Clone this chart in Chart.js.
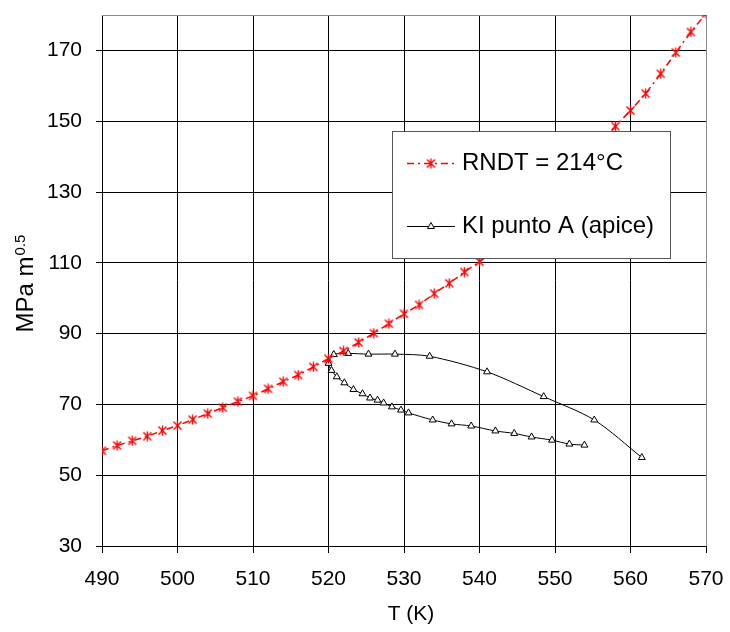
<!DOCTYPE html>
<html>
<head>
<meta charset="utf-8">
<script src="https://cdn.jsdelivr.net/npm/chart.js@4.4.1/dist/chart.umd.min.js"></script>
<style>
  body { margin: 0; background: #fff; }
</style>
</head>
<body>
<canvas id="ki-chart" width="730" height="632"></canvas>
<script>
// RNDT reference curve (every 2 K)
var rndtT = [490, 492, 494, 496, 498, 500, 502, 504, 506, 508, 510, 512, 514, 516, 518, 520,
             522, 524, 526, 528, 530, 532, 534, 536, 538, 540, 542, 544, 546, 548, 550, 552,
             554, 556, 558, 560, 562, 564, 566, 568, 570];
var rndtK = [56.9, 58.4, 59.7, 61.0, 62.6, 64.0, 65.7, 67.4, 69.1, 70.8, 72.4, 74.4, 76.4, 78.3, 80.6, 82.9,
             85.1, 87.5, 90.1, 92.8, 95.6, 98.1, 101.3, 104.2, 107.4, 110.3, 113.5, 116.9, 120.5, 124.3, 128.4, 132.8,
             137.5, 142.9, 148.6, 153.0, 157.8, 163.4, 169.4, 175.2, 180.4];

// KI at point A (apex) during the transient
var kiT = [561.5, 555.2, 548.5, 541.0, 533.4, 528.8, 525.3, 522.6, 520.7,
           520.0, 520.4, 521.1, 522.1, 523.3, 524.5, 525.5, 526.5, 527.3, 528.4, 529.6, 530.6,
           533.8, 536.3, 538.9, 542.1, 544.6, 546.9, 549.6, 551.9, 553.9];
var kiK = [55.0, 65.6, 72.2, 79.2, 83.6, 84.2, 84.2, 84.4, 84.1,
           81.6, 79.6, 77.8, 76.1, 74.2, 73.0, 71.8, 71.2, 70.4, 69.3, 68.4, 67.6,
           65.6, 64.5, 63.9, 62.5, 61.8, 60.8, 59.9, 58.8, 58.5];

var xTicks = [490, 500, 510, 520, 530, 540, 550, 560, 570];
var yTicks = [30, 50, 70, 90, 110, 130, 150, 170];

var seriesNames = ['RNDT = 214°C', 'KI punto A (apice)'];

var FONT = "'Liberation Sans', Arial, sans-serif";

// red asterisk marker
function makeStar() {
  var c = document.createElement('canvas');
  c.width = 11; c.height = 11;
  var g = c.getContext('2d');
  g.strokeStyle = '#ff0000';
  g.lineWidth = 1.4;
  g.beginPath();
  g.moveTo(1.5, 1.5); g.lineTo(9.5, 9.5);
  g.moveTo(9.5, 1.5); g.lineTo(1.5, 9.5);
  g.moveTo(5.5, 0.5); g.lineTo(5.5, 10.5);
  g.stroke();
  return c;
}
var star = makeStar();

function toPoints(xs, ys) {
  return xs.map(function(x, i) { return { x: x, y: ys[i] }; });
}

function drawTriangle(ctx, x, y, r) {
  ctx.beginPath();
  ctx.moveTo(x, y - r);
  ctx.lineTo(x + r * 0.866, y + r * 0.5);
  ctx.lineTo(x - r * 0.866, y + r * 0.5);
  ctx.closePath();
  ctx.fillStyle = '#fff';
  ctx.fill();
  ctx.strokeStyle = '#000';
  ctx.lineWidth = 1;
  ctx.stroke();
}

var legendBox = { left: 392, top: 131, right: 670, bottom: 258 };

var decor = {
  id: 'decor',
  beforeDatasetsDraw: function(chart) {
    var ctx = chart.ctx, a = chart.chartArea;
    ctx.save();
    ctx.strokeStyle = '#8c8c8c';
    ctx.lineWidth = 1;
    ctx.beginPath();
    ctx.moveTo(Math.round(a.left), Math.round(a.top) + 0.5);
    ctx.lineTo(Math.round(a.right) + 0.5, Math.round(a.top) + 0.5);
    ctx.lineTo(Math.round(a.right) + 0.5, Math.round(a.bottom));
    ctx.stroke();
    ctx.restore();
  },
  afterDatasetsDraw: function(chart) {
    var ctx = chart.ctx, b = legendBox;
    ctx.save();
    ctx.fillStyle = '#fff';
    ctx.fillRect(b.left, b.top, b.right - b.left, b.bottom - b.top);
    ctx.strokeStyle = '#555';
    ctx.lineWidth = 1;
    ctx.strokeRect(b.left + 0.5, b.top + 0.5, b.right - b.left, b.bottom - b.top);

    var x0 = 407, x1 = 455, xm = 431, y1 = 163.5, y2 = 226.5;
    ctx.strokeStyle = '#ff0000';
    ctx.lineWidth = 1.5;
    ctx.setLineDash([7, 4, 2, 4]);
    ctx.beginPath(); ctx.moveTo(x0, y1); ctx.lineTo(x1, y1); ctx.stroke();
    ctx.setLineDash([]);
    ctx.drawImage(star, xm - 5.5, y1 - 5.5);

    ctx.strokeStyle = '#000';
    ctx.lineWidth = 1;
    ctx.beginPath(); ctx.moveTo(x0, y2); ctx.lineTo(x1, y2); ctx.stroke();
    drawTriangle(ctx, xm, y2, 4);

    ctx.fillStyle = '#000';
    ctx.font = '24px ' + FONT;
    ctx.textBaseline = 'middle';
    ctx.textAlign = 'left';
    ctx.fillText(seriesNames[0], 462, y1);
    ctx.fillText(seriesNames[1], 462, y2);
    ctx.restore();
  },
  afterDraw: function(chart) {
    var ctx = chart.ctx;
    ctx.save();
    ctx.fillStyle = '#000';
    // x axis title
    ctx.font = '21px ' + FONT;
    ctx.textAlign = 'center';
    ctx.textBaseline = 'middle';
    ctx.fillText('T (K)', 411, 614);
    // y axis title with superscript
    ctx.translate(33, 284);
    ctx.rotate(-Math.PI / 2);
    ctx.textAlign = 'left';
    ctx.textBaseline = 'alphabetic';
    ctx.font = '24px ' + FONT;
    var main = 'MPa m', sup = '0.5';
    var w1 = ctx.measureText(main).width;
    ctx.font = '15px ' + FONT;
    var w2 = ctx.measureText(sup).width;
    var start = -(w1 + w2) / 2;
    ctx.font = '24px ' + FONT;
    ctx.fillText(main, start, 0);
    ctx.font = '15px ' + FONT;
    ctx.fillText(sup, start + w1 + 1, -8);
    ctx.restore();
  }
};

new Chart(document.getElementById('ki-chart'), {
  type: 'line',
  data: {
    datasets: [{
      label: seriesNames[0],
      data: toPoints(rndtT, rndtK),
      borderColor: '#ff0000',
      borderWidth: 1.5,
      borderDash: [7, 4, 2, 4],
      pointStyle: star,
      pointRadius: 5,
      tension: 0
    }, {
      label: seriesNames[1],
      data: toPoints(kiT, kiK),
      borderColor: '#000',
      borderWidth: 1,
      pointStyle: 'triangle',
      pointRadius: 4,
      pointBorderWidth: 1,
      pointBorderColor: '#000',
      pointBackgroundColor: '#fff',
      tension: 0.3
    }]
  },
  options: {
    responsive: false,
    animation: false,
    layout: { padding: { top: 15, right: 24, left: 0, bottom: 0 } },
    plugins: { legend: { display: false }, tooltip: { enabled: false } },
    scales: {
      x: {
        type: 'linear',
        min: 490,
        max: 570,
        afterBuildTicks: function(scale) {
          scale.ticks = xTicks.map(function(v) { return { value: v }; });
        },
        afterFit: function(scale) {
          scale.height = 86;
          scale.paddingLeft = 0;
          scale.paddingRight = 0;
        },
        grid: { color: '#000', lineWidth: 1, tickLength: 7 },
        border: { color: '#000', width: 1 },
        ticks: {
          color: '#000',
          padding: 14,
          maxRotation: 0,
          autoSkip: false,
          font: { family: FONT, size: 21 }
        }
      },
      y: {
        type: 'linear',
        min: 30,
        max: 180,
        afterBuildTicks: function(scale) {
          scale.ticks = yTicks.map(function(v) { return { value: v }; });
        },
        afterFit: function(scale) {
          scale.width = 102;
          scale.paddingTop = 0;
          scale.paddingBottom = 0;
        },
        grid: { color: '#000', lineWidth: 1, tickLength: 6 },
        border: { color: '#000', width: 1 },
        ticks: {
          color: '#000',
          padding: 14,
          autoSkip: false,
          font: { family: FONT, size: 21 }
        }
      }
    }
  },
  plugins: [decor]
});
</script>
</body>
</html>
